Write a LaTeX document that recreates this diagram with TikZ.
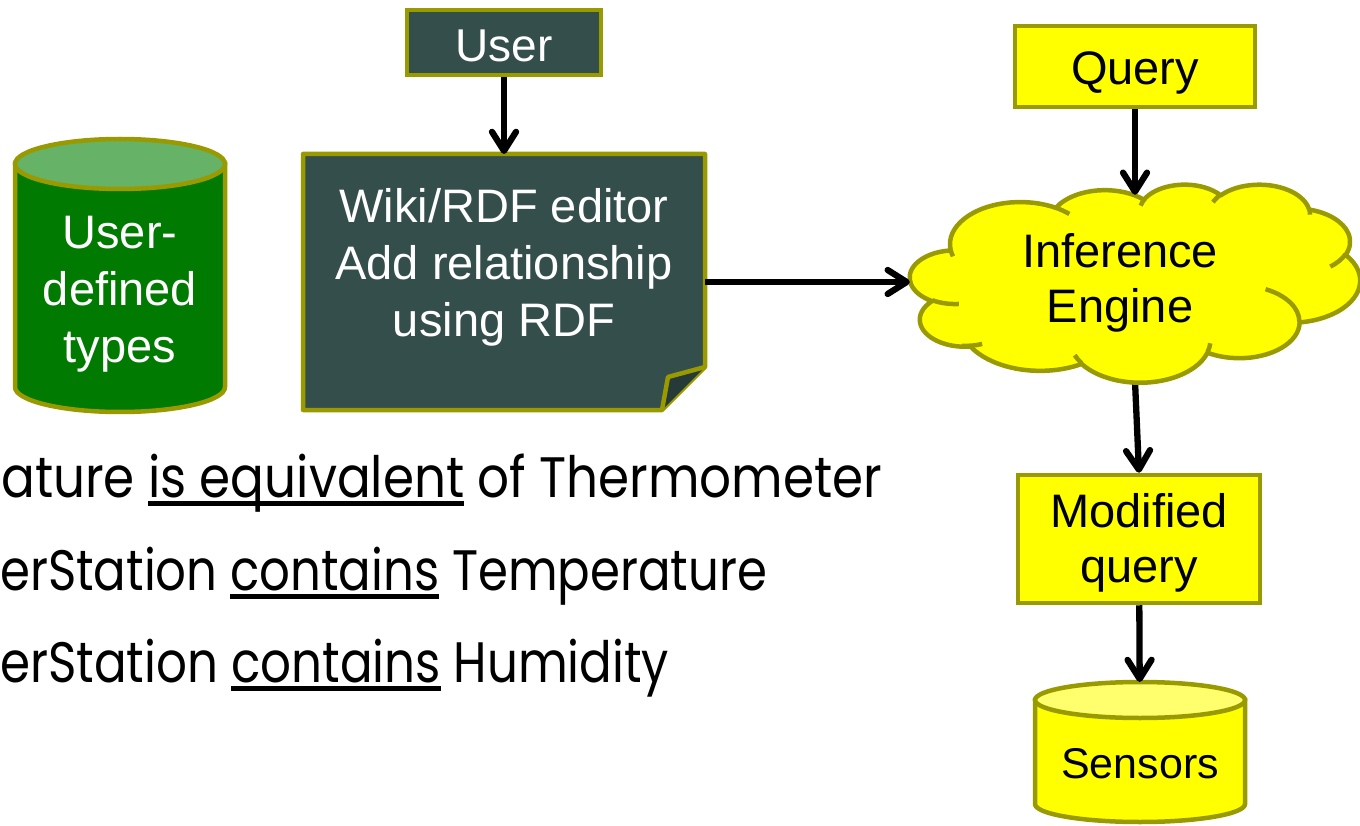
\documentclass[tikz,border=0pt]{standalone}
\usepackage{fontspec}
\setmainfont{Liberation Sans}
\newfontfamily\listfont{Poppins}
\usetikzlibrary{arrows.meta,shapes.geometric}

\definecolor{slate}{RGB}{52,78,75}
\definecolor{slatefold}{RGB}{38,58,56}
\definecolor{olive}{RGB}{153,153,0}
\definecolor{dbgreen}{RGB}{0,122,0}
\definecolor{dbgreentop}{RGB}{102,178,102}
\definecolor{sunyellow}{RGB}{255,255,0}
\definecolor{sunyellowtop}{RGB}{255,255,110}

\newsavebox\rowbox
\newsavebox\ulbox
\newcommand\ulined[1]{\sbox\ulbox{#1}\rlap{\rule[-9pt]{\wd\ulbox}{5pt}}\usebox\ulbox}
\newcommand\listsize{\fontsize{57}{68}\selectfont}
% horizontal scale that makes a list row span a given width (in px)
\newcommand\rowfit[3]{%
  \setbox\rowbox\hbox{\listfont\listsize #2}%
  \edef\rowwidth{\the\wd\rowbox}%
  \pgfmathsetmacro#1{#3pt/\rowwidth}}

\begin{document}
\rowfit\rowscaleA{ature is equivalent of Thermometer}{881}%
\rowfit\rowscaleB{erStation contains Temperature}{767}%
\rowfit\rowscaleC{erStation contains Humidity}{669}%
\begin{tikzpicture}[x=1pt,y=-1pt,
  outline/.style={draw=olive, line width=4.5pt},
  darkbox/.style={outline, fill=slate, text=white, inner sep=0pt},
  yellowbox/.style={outline, fill=sunyellow, text=black, inner sep=0pt},
  anchorbox/.style={rectangle, inner sep=0pt, outer sep=0pt},
  labeltext/.style={align=center, inner sep=0pt, font=\fontsize{47}{57}\selectfont},
  linkarrow/.style={draw=black, line width=6.3pt, -{Straight Barb[round, length=19pt, width=24pt]}},
  declare function={vang(\pw,\ph,\pa)=atan2(\pw*sin(\pa),\ph*cos(\pa));},
  carc/.style n args={4}{x radius=#1, y radius=#2, start angle={vang(#1,#2,#3)},
    delta angle={mod(vang(#1,#2,#3+#4)-vang(#1,#2,#3)+720,360)}},
]
\useasboundingbox (0,0) rectangle (1360,826);
\fill[white] (0,0) rectangle (1360,826);

% ---------- user-defined types store ----------
\node[anchorbox, minimum width=210pt, minimum height=275pt] (types) at (120,276) {};
\filldraw[outline, fill=dbgreen] (15,164) -- (15,387)
  arc[start angle=180, end angle=0, x radius=105, y radius=25] -- (225,164) -- cycle;
\filldraw[outline, fill=dbgreentop] (120,164) ellipse[x radius=105, y radius=25];
\node[labeltext, text=white] (typeslabel) at (120,294) {User-\\defined\\types};

% ---------- user and editor ----------
\node[darkbox, minimum width=194pt, minimum height=65pt, font=\fontsize{46}{55}\selectfont,
  text height=44pt, text depth=6pt] (user) at (504,42.5) {User};
\node[anchorbox, minimum width=402pt, minimum height=256pt] (editor) at (504,282) {};
\filldraw[outline, fill=slate, line join=round]
  (editor.north west) -- (editor.north east) -- ([yshift=43pt]editor.south east)
  -- ([xshift=-43pt]editor.south east) -- (editor.south west) -- cycle;
\filldraw[outline, fill=slatefold, line join=round]
  ([yshift=43pt]editor.south east) -- ([xshift=-37pt,yshift=33pt]editor.south east)
  -- ([xshift=-43pt]editor.south east);
\node[labeltext, text=white] (editorlabel) at (504,267)
  {Wiki/RDF editor\\Add relationship\\using RDF};

% ---------- query side ----------
\node[yellowbox, minimum width=240pt, minimum height=81pt, font=\fontsize{47}{55}\selectfont,
  text height=46pt, text depth=9pt] (query) at (1135,66.5) {Query};
\node[ellipse, inner sep=0pt, minimum width=450pt, minimum height=196pt] (engine) at (1135,283) {};
\node[yellowbox, minimum width=242pt, minimum height=128pt] (modified) at (1139,539) {};
\node[labeltext, font=\fontsize{47}{55}\selectfont] (modifiedlabel) at (1139,543) {Modified\\query};
\node[anchorbox, minimum width=210pt, minimum height=140pt] (sensors) at (1140,752) {};

% the link leaving the cloud is drawn first so the cloud covers its root
\draw[linkarrow] (engine.south) -- (modified.north);

% inference cloud
\begin{scope}[shift={(910,184)}, xscale=450/432, yscale=198/432]
\filldraw[outline, fill=sunyellow, line join=round] (39.00,143.70)
  arc[carc={67.53}{91.90}{-190.4875}{123.7805}]
  arc[carc={53.33}{72.67}{-144.1024}{89.9452}]
  arc[carc={43.65}{59.45}{-145.8079}{99.7230}]
  arc[carc={48.57}{65.95}{-130.9861}{117.2417}]
  arc[carc={53.33}{72.73}{-78.7089}{109.0269}]
  arc[carc={67.75}{92.20}{-46.2673}{130.2690}]
  arc[carc={57.85}{78.67}{0.6250}{114.0333}]
  arc[carc={67.52}{92.15}{22.4516}{115.1726}]
  arc[carc={77.20}{105.43}{66.2426}{75.7110}]
  arc[carc={43.60}{59.18}{-274.9421}{146.7356}]
  arc[carc={43.45}{59.45}{-246.8285}{152.5189}]
  -- cycle;
\draw[outline]
  (46.93,261.77) arc[carc={43.45}{59.45}{86.7420}{26.4295}]
  (69.28,348.99) arc[carc={43.60}{59.18}{73.6105}{19.4740}]
  (164.78,390.90) arc[carc={67.52}{92.15}{137.6242}{14.0811}]
  (288.27,347.51) arc[carc={67.52}{92.15}{6.4533}{15.9984}]
  (341.29,229.54) arc[carc={57.85}{78.67}{-70.2924}{70.9174}]
  (417.98,153.54) arc[carc={53.33}{72.73}{30.3180}{27.7515}]
  (383.24,54.26) arc[carc={48.57}{65.95}{-13.7443}{14.8589}]
  (290.78,39.52) arc[carc={48.57}{65.95}{-149.1815}{18.1954}]
  (221.41,47.20) arc[carc={43.65}{59.45}{-163.4943}{17.6864}]
  (140.00,51.92) arc[carc={67.53}{91.90}{-66.7070}{12.3194}]
  (41.27,157.89) arc[carc={67.53}{91.90}{157.6544}{11.8582}];
\end{scope}
\node[labeltext, font=\fontsize{47}{55}\selectfont] (enginelabel) at (1120,283)
  {Inference\\Engine};

% sensors store
\filldraw[outline, fill=sunyellow] (1035,700) -- (1035,804)
  arc[start angle=180, end angle=0, x radius=105, y radius=18] -- (1245,700) -- cycle;
\filldraw[outline, fill=sunyellowtop] (1140,700) ellipse[x radius=105, y radius=18];
\node[font=\fontsize{43}{50}\selectfont] (sensorslabel) at (1140,764) {Sensors};

% ---------- connectors ----------
\draw[linkarrow] (user) -- (editor);
\draw[linkarrow] (editor.east) -- (editor.east -| engine.west);
% the cloud dips below its outer ellipse under the query, so run the tip on into the dip
\draw[linkarrow, shorten >=-10pt] (query) -- (engine);
\draw[linkarrow] (modified) -- (sensors);

% ---------- relationship list ----------
\node[anchor=base west, inner sep=0pt] (fact1) at (1,497)
  {\scalebox{\rowscaleA}[1]{\listfont\listsize ature \ulined{is equivalent} of Thermometer}};
\node[anchor=base west, inner sep=0pt] (fact2) at (0,590)
  {\scalebox{\rowscaleB}[1]{\listfont\listsize erStation \ulined{contains} Temperature}};
\node[anchor=base west, inner sep=0pt] (fact3) at (0,682)
  {\scalebox{\rowscaleC}[1]{\listfont\listsize erStation \ulined{contains} Humidity}};
\end{tikzpicture}
\end{document}
